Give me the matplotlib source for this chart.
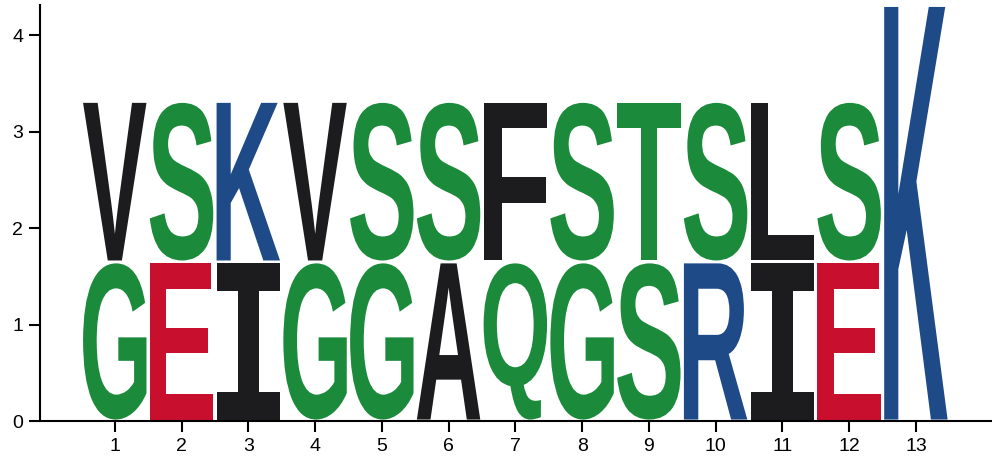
import matplotlib
matplotlib.use("Agg")
import matplotlib.pyplot as plt
from matplotlib.textpath import TextPath
from matplotlib.patches import PathPatch
from matplotlib.font_manager import FontProperties
from matplotlib.transforms import Affine2D

positions = list(range(1, 14))
bottom_letters = list("GEIGGAQGSRIE") + ["K"]
bottom_heights = [1.65] * 12 + [4.31]
top_letters = list("VSKVSSFSTSLS") + [""]
top_heights = [1.665] * 12 + [0.0]

color_map = {
    "G": "#1b8a3a", "S": "#1b8a3a", "T": "#1b8a3a", "Q": "#1b8a3a",
    "V": "#1c1b1e", "F": "#1c1b1e", "L": "#1c1b1e", "I": "#1c1b1e", "A": "#1c1b1e",
    "K": "#1e4a87", "R": "#1e4a87",
    "E": "#c8102e",
}

fp = FontProperties(family="Liberation Sans", weight="bold")
fp_serif_i = FontProperties(family="DejaVu Sans Mono", weight="bold")


def draw_letter(ax, ch, x, y0, h, w=0.95, pad=0.015):
    if not ch or h <= 0:
        return
    prop = fp_serif_i if ch == "I" else fp
    tp = TextPath((0, 0), ch, size=1, prop=prop)
    bb = tp.get_extents()
    hh = h - 2 * pad
    tr = (Affine2D().translate(-bb.x0, -bb.y0)
          .scale(w / bb.width, hh / bb.height)
          .translate(x - w / 2, y0 + pad))
    path = tr.transform_path(tp)
    ax.add_patch(PathPatch(path, facecolor=color_map[ch], edgecolor="none"))


fig = plt.figure(figsize=(9.92, 4.72), dpi=100)
ax = fig.add_axes([40 / 992, 51 / 472, 952 / 992, (421 - 5.5) / 472])

for x, bl, bh, tl, th in zip(positions, bottom_letters, bottom_heights, top_letters, top_heights):
    draw_letter(ax, bl, x, 0, bh)
    draw_letter(ax, tl, x, bh, th)

ax.set_xlim(-0.12, 14.14)
ax.set_ylim(0, 4.31)
ax.set_xticks(positions)
ax.set_xticklabels([str(p) for p in positions])
ax.set_yticks([0, 1, 2, 3, 4])
for s in ["top", "right"]:
    ax.spines[s].set_visible(False)
for s in ["left", "bottom"]:
    ax.spines[s].set_linewidth(1.5)
ax.tick_params(axis="both", length=8, width=1.5, labelsize=14, pad=4)
for lab in ax.get_xticklabels() + ax.get_yticklabels():
    lab.set_family("Liberation Sans")

fig.savefig("out.png", dpi=100)
